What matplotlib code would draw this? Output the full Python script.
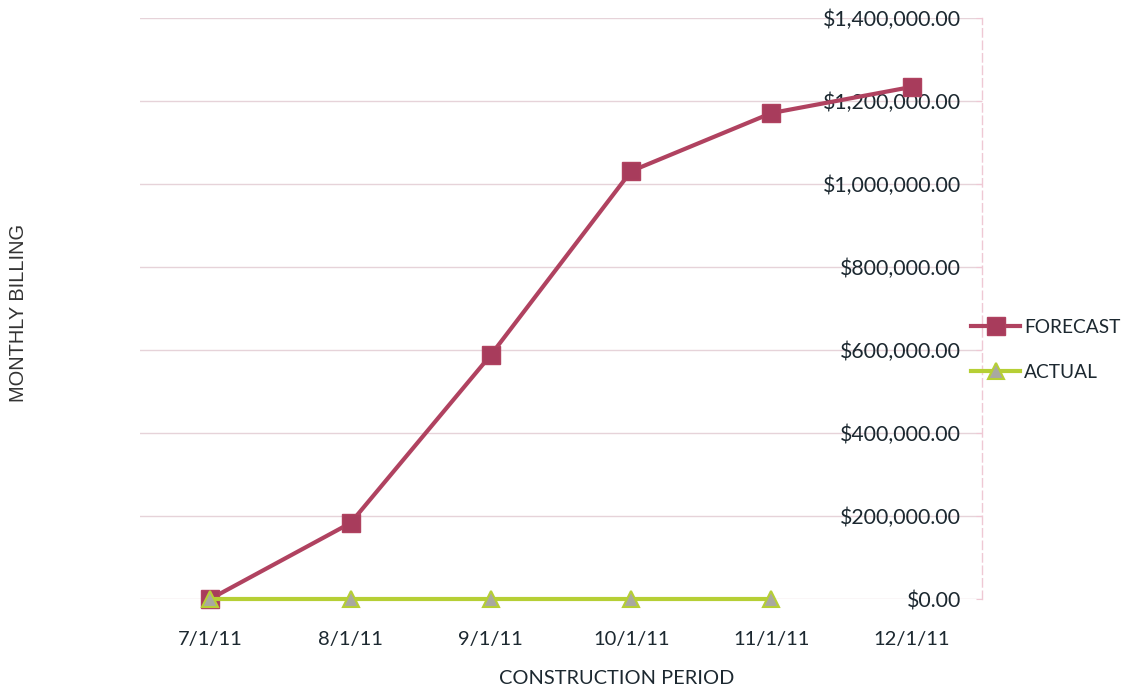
import matplotlib
matplotlib.use("Agg")
import matplotlib.pyplot as plt
from matplotlib.ticker import FuncFormatter

categories = ["7/1/11", "8/1/11", "9/1/11", "10/1/11", "11/1/11", "12/1/11"]
forecast = [0, 183000, 588000, 1031000, 1171000, 1234000]
actual = [0, 0, 0, 0, 0]
yticks = [0, 200000, 400000, 600000, 800000, 1000000, 1200000, 1400000]

plt.rcParams['font.family'] = ['Lato', 'DejaVu Sans']

fig = plt.figure(figsize=(11.29, 6.92), dpi=100)
ax = fig.add_axes([140/1129, 1-599/692, (982-140)/1129, (599-18)/692])

x = list(range(len(categories)))
grid_c = '#e6d3d9'
ax.set_ylim(0, 1400000)
ax.set_xlim(-0.5, len(categories) - 0.5)
ax.set_yticks(yticks)
ax.yaxis.grid(True, color=grid_c, linewidth=1.0, zorder=0)
ax.set_axisbelow(True)

ax.plot(x, forecast, color='#b04260', linewidth=3, marker='s', markersize=12.5,
        markerfacecolor='#a83c5c', markeredgecolor='#b04260', label='FORECAST',
        zorder=3, clip_on=False)
ax.plot(x[:len(actual)], actual, color='#b6cf35', linewidth=3, marker='^', markersize=11,
        markerfacecolor='#a9a9a0', markeredgecolor='#b6cf35', markeredgewidth=1.5,
        label='ACTUAL', zorder=4, clip_on=False)

for s in ['top', 'left', 'bottom']:
    ax.spines[s].set_visible(False)
ax.spines['right'].set_color('#efc8d4')
ax.spines['right'].set_linestyle((0, (6, 3)))
ax.spines['right'].set_linewidth(1.0)

ax.set_xticks(x)
ax.set_xticklabels(categories)
ax.tick_params(axis='x', length=0, pad=23, labelsize=14.5, labelcolor='#1c2830')

ax.yaxis.tick_right()
ax.yaxis.set_major_formatter(FuncFormatter(lambda v, p: "${:,.2f}".format(v)))
ax.tick_params(axis='y', length=4, color='#efc8d4', direction='in', pad=-15,
               labelsize=15.3, labelcolor='#1c2830')
for lbl in ax.get_yticklabels():
    lbl.set_horizontalalignment('right')

ax.set_xlabel("CONSTRUCTION PERIOD", fontsize=14.4, color='#1c2830', labelpad=0)
ax.xaxis.set_label_coords((617-140)/842, -(678-599)/581, transform=ax.transAxes)
ax.xaxis.label.set_verticalalignment('center')

fig.text(19/1129, 1-313/692, "MONTHLY BILLING", rotation=90, ha='center', va='center',
         fontsize=14.4, color='#333333', family=['Liberation Sans', 'DejaVu Sans'])

leg = ax.legend(loc='center left', bbox_to_anchor=(961/1129, 1-350/692), bbox_transform=fig.transFigure,
                frameon=False, fontsize=13.8, handlelength=2.6, handletextpad=0.2,
                labelspacing=1.45, borderpad=0)
for t in leg.get_texts():
    t.set_color('#1c2830')

fig.savefig("out.png", dpi=100)
